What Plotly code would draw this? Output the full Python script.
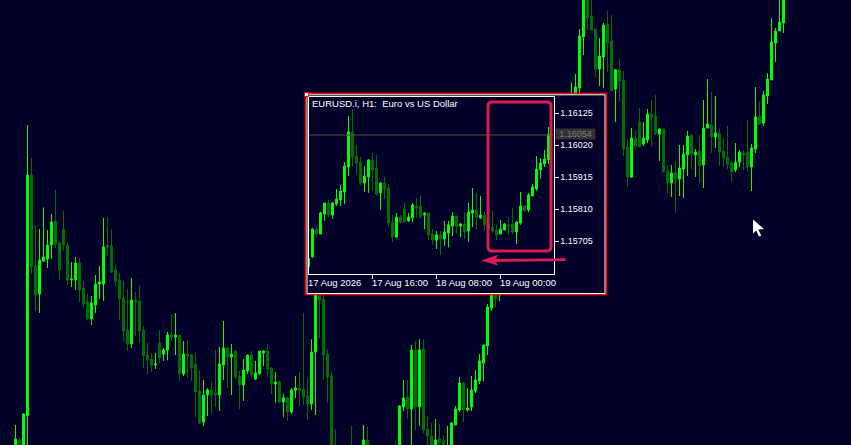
import plotly.graph_objects as go

W, H = 851, 445
BG = "#000028"
BULL = "#00FF00"
BEAR = "#007000"
CRIMSON = "#DC1A50"

# ---- background chart (points above the window's lower edge, 3 points per pixel)
main_index = list(range(0, 81)) + [84, 87, 88] + list(range(95, 122)) + list(range(139, 193))
main_open = [-40,15,-60,88,810,537,453,552,558,600,672,606,648,600,495,495,546,471,429,378,420,483,483,600,597,525,495,441,345,303,435,432,345,270,258,240,306,273,285,330,324,330,213,273,270,243,162,69,150,165,156,150,240,291,264,282,207,180,222,270,198,213,276,282,231,183,189,129,141,99,165,171,168,147,123,279,470,438,273,207,-70,
 -10,-20,15,
 -5,-30,114,144,108,285,114,288,48,27,-10,18,12,-30,-10,60,105,186,105,114,162,192,246,297,411,470,450,
 1000,1030,1071,1224,1360,1287,1248,1128,1164,1263,1212,1068,1125,1095,894,804,921,969,903,915,993,987,933,948,822,786,816,798,828,870,930,870,882,840,951,960,924,936,882,864,846,825,849,876,879,834,888,987,966,1047,1095,1206,1242,1266]
main_high = [60,22,95,960,861,659,648,713,645,693,765,612,702,609,549,564,561,492,453,447,510,537,681,684,648,543,516,492,468,501,459,477,357,306,276,276,345,291,339,393,396,330,312,315,273,279,222,195,171,189,285,294,372,294,303,285,222,258,270,282,252,282,285,303,234,219,195,153,144,171,207,219,396,201,317,490,480,460,288,219,48,
 57,60,57,
 9,120,195,195,300,312,317,317,87,66,78,63,30,57,69,117,204,189,171,207,225,273,300,423,490,480,480,
 1088,1113,1248,1380,1380,1340,1248,1221,1266,1302,1290,1128,1158,1122,915,951,945,1011,969,1008,1035,1050,951,948,840,840,849,900,900,942,930,888,930,1035,1098,1059,1047,948,921,957,852,906,885,885,975,903,1074,1032,1062,1116,1281,1251,1340,1380]
main_low = [-60,-50,-80,-120,513,402,396,549,531,558,591,495,582,480,474,465,429,411,375,360,396,438,432,567,516,474,375,309,282,291,327,306,231,213,219,228,246,252,255,312,270,192,207,201,192,84,63,57,87,93,114,102,195,171,150,198,108,132,213,204,195,213,237,204,153,126,126,84,72,93,141,117,120,75,105,90,321,195,126,-80,-100,
 -40,-40,-40,
 -40,-40,102,78,-20,45,57,36,-10,-20,-20,-10,-30,-40,-20,60,99,69,99,102,156,183,192,270,402,413,432,
 990,1010,1056,1170,1245,1245,1104,1077,1071,1119,1062,969,1032,867,774,801,888,894,897,906,897,930,852,819,756,744,696,747,741,807,828,804,786,771,951,876,891,837,834,828,789,819,834,825,819,762,876,960,957,1023,1095,1149,1242,1236]
main_close = [18,-30,93,810,535,450,555,564,600,669,602,525,600,495,498,546,465,423,378,426,483,489,594,594,519,492,438,342,303,435,429,342,267,255,240,243,261,285,330,324,330,213,273,267,231,159,66,150,165,150,150,243,291,264,273,204,180,225,270,210,216,282,282,228,183,189,129,141,99,165,171,162,144,123,279,470,435,270,204,-60,-90,
 -30,15,-20,
 -30,117,141,108,285,114,285,45,27,-10,15,6,-20,-10,66,108,186,105,111,165,195,252,300,414,480,440,470,
 1030,1074,1227,1360,1281,1245,1128,1167,1260,1206,1062,1126,1092,888,804,921,897,894,921,993,984,933,948,819,786,816,798,831,873,927,873,879,837,951,963,924,936,879,861,843,819,849,879,870,834,891,984,963,1050,1098,1209,1242,1269,1360]

# ---- inset chart (EURUSD H1, in points: 116125 = 1.16125)
inset_index = list(range(-1, 60))
inset_open = [115622,115654,115745,115729,115795,115831,115791,115828,115841,115867,115949,116064,115985,115965,115896,115916,115972,115946,115864,115896,115880,115768,115719,115785,115811,115772,115782,115821,115821,115791,115798,115729,115709,115726,115713,115732,115755,115788,115755,115762,115739,115798,115808,115782,115791,115762,115752,115742,115729,115742,115759,115762,115736,115765,115821,115808,115854,115877,115939,115959,115972]
inset_high = [115649,115749,115755,115801,115831,115841,115834,115877,115890,115965,116116,116139,116021,115982,115952,115975,115998,115988,115900,115916,115893,115791,115798,115791,115831,115798,115831,115847,115857,115801,115798,115745,115739,115739,115772,115772,115801,115788,115765,115801,115831,115880,115864,115854,115801,115775,115805,115759,115775,115765,115782,115814,115772,115867,115824,115864,115893,115985,115978,116005,116080]
inset_low = [115622,115650,115719,115729,115772,115785,115778,115821,115821,115828,115919,115949,115926,115890,115867,115864,115870,115854,115808,115844,115752,115703,115716,115765,115768,115768,115768,115782,115778,115745,115709,115693,115680,115660,115690,115685,115722,115732,115719,115713,115703,115752,115742,115778,115739,115730,115732,115709,115729,115742,115726,115729,115696,115759,115801,115801,115854,115870,115910,115949,115959]
inset_close = [115649,115745,115729,115798,115831,115791,115831,115844,115870,115952,116064,115982,115962,115896,115919,115972,115939,115860,115896,115877,115765,115719,115785,115768,115768,115785,115824,115814,115785,115798,115726,115709,115726,115713,115736,115759,115788,115755,115762,115736,115801,115808,115785,115791,115759,115748,115739,115726,115745,115762,115755,115736,115768,115821,115805,115857,115883,115942,115962,115975,116057]

y_tick_values = [116125, 116020, 115915, 115810, 115705]
y_tick_labels = ["1.16125", "1.16020", "1.15915", "1.15810", "1.15705"]
x_tick_values = [-1, 15, 31, 47]
x_tick_labels = ["17 Aug 2026", "17 Aug 16:00", "18 Aug 08:00", "19 Aug 00:00"]
current_price = 116054
current_label = "1.16054"
chart_title = "EURUSD.i, H1:  Euro vs US Dollar"

FONT = "Liberation Sans"


def fx(x):
    return x / W


def fy(y):
    return 1 - y / H


def candle(x, o, h, l, c, xa, ya):
    return go.Candlestick(
        x=x, open=o, high=h, low=l, close=c, xaxis=xa, yaxis=ya,
        increasing=dict(line=dict(color=BULL, width=1), fillcolor=BULL),
        decreasing=dict(line=dict(color=BEAR, width=1), fillcolor=BEAR),
        whiskerwidth=0, hoverinfo="skip", showlegend=False,
    )


fig = go.Figure()
fig.add_trace(candle(main_index, main_open, main_high, main_low, main_close, "x", "y"))
# opaque inset panel above the background chart
fig.add_trace(go.Scatter(x=[0, 1, 1, 0, 0], y=[0, 0, 1, 1, 0], xaxis="x2", yaxis="y2", mode="none",
                         fill="toself", fillcolor=BG, hoverinfo="skip", showlegend=False))
fig.add_trace(candle(inset_index, inset_open, inset_high, inset_low, inset_close, "x3", "y3"))


def hidden(**kw):
    return dict(visible=False, fixedrange=True, **kw)


white_line = dict(color="#FFFFFF", width=1)
red_line = dict(color="#FF0000", width=1.5)
shapes = [
    dict(type="rect", xref="paper", yref="paper", x0=fx(305.5), x1=fx(606.5), y0=fy(294.5), y1=fy(93.5), line=red_line),
    dict(type="rect", xref="paper", yref="paper", x0=fx(307), x1=fx(605), y0=fy(293.5), y1=fy(94.8), line=white_line),
    dict(type="rect", xref="paper", yref="paper", x0=fx(304.5), x1=fx(308.5), y0=fy(96.5), y1=fy(92.5),
         line=dict(color="#FF0000", width=1), fillcolor="#FFFFFF"),
    # current price line
    dict(type="line", xref="x3 domain", yref="y3", x0=0, x1=1, y0=current_price, y1=current_price,
         line=dict(color="#55553F", width=1)),
    # highlight box
    dict(type="path", xref="paper", yref="paper", line=dict(color=CRIMSON, width=3),
         path=(f"M{fx(492)},{fy(102)} L{fx(547)},{fy(102)} Q{fx(551)},{fy(102)} {fx(551)},{fy(106)} "
               f"L{fx(551)},{fy(247)} Q{fx(551)},{fy(251)} {fx(547)},{fy(251)} "
               f"L{fx(492)},{fy(251)} Q{fx(488)},{fy(251)} {fx(488)},{fy(247)} "
               f"L{fx(488)},{fy(106)} Q{fx(488)},{fy(102)} {fx(492)},{fy(102)} Z")),
    # arrow
    dict(type="path", xref="paper", yref="paper", line=dict(color=CRIMSON, width=0), fillcolor=CRIMSON,
         path=(f"M{fx(481)},{fy(260.5)} L{fx(498)},{fy(254.7)} L{fx(496)},{fy(259)} L{fx(565.5)},{fy(258.3)} "
               f"L{fx(565.5)},{fy(261)} L{fx(496)},{fy(262)} L{fx(498)},{fy(265.5)} Z")),
    # mouse pointer
    dict(type="path", xref="paper", yref="paper", line=dict(color="#FFFFFF", width=0), fillcolor="#FFFFFF",
         path=(f"M{fx(753)},{fy(219.5)} L{fx(753)},{fy(233.5)} L{fx(756.2)},{fy(230.5)} L{fx(759)},{fy(236.5)} "
               f"L{fx(761.2)},{fy(235.5)} L{fx(758.4)},{fy(229.5)} L{fx(764)},{fy(229)} Z")),
]

annotations = [
    dict(text=chart_title, xref="paper", yref="paper", x=fx(309.5), y=fy(103.5), xanchor="left", yanchor="middle",
         showarrow=False, font=dict(family=FONT, size=9.5, color="#FFFFFF")),
    dict(text=current_label, xref="paper", yref="paper", x=fx(575.5), y=fy(134.2), xanchor="center", yanchor="middle",
         showarrow=False, font=dict(family=FONT, size=9, color="#7A7A7A"), bgcolor="#333333",
         width=39, height=10, borderpad=0),
]
for v, t in zip(x_tick_values, x_tick_labels):
    annotations.append(dict(text=t, xref="paper", yref="paper", x=fx(312.5 + 4 * v - 3), y=fy(282.6),
                            xanchor="left", yanchor="middle",
                            showarrow=False, font=dict(family=FONT, size=9.5, color="#FFFFFF")))

fig.update_layout(
    width=W, height=H, margin=dict(l=0, r=0, t=0, b=0, pad=0),
    paper_bgcolor=BG, plot_bgcolor=BG, showlegend=False, dragmode=False,
    boxgap=0.5, boxgroupgap=0,
    xaxis=dict(range=[(0 - 15.5) / 4, (W - 15.5) / 4], domain=[0, 1], visible=False, fixedrange=True,
               rangeslider=dict(visible=False)),
    yaxis=dict(range=[0, 1335], domain=[0, 1], visible=False, fixedrange=True),
    xaxis2=dict(range=[0, 1], domain=[fx(305), fx(607)], anchor="y2", **hidden()),
    yaxis2=dict(range=[0, 1], domain=[fy(295), fy(93)], anchor="x2", **hidden()),
    xaxis3=dict(range=[(309 - 312.5) / 4, (553.5 - 312.5) / 4], domain=[fx(309), fx(553.5)], anchor="y3",
                rangeslider=dict(visible=False), showgrid=False, zeroline=False, fixedrange=True,
                showline=True, mirror=True, linecolor="#FFFFFF", linewidth=1,
                tickmode="array", tickvals=x_tick_values, ticktext=[""] * 4,
                ticks="outside", ticklen=4, tickwidth=1, tickcolor="#FFFFFF"),
    yaxis3=dict(range=[116125 - (273.5 - 113.33) * 105 / 32, 116125 + (113.33 - 96.5) * 105 / 32],
                domain=[fy(273.5), fy(96.5)], anchor="x3", side="right", showgrid=False, zeroline=False,
                fixedrange=True, showline=True, mirror=True, linecolor="#FFFFFF", linewidth=1,
                tickmode="array", tickvals=y_tick_values, ticktext=y_tick_labels,
                ticks="outside", ticklen=4, tickwidth=1, tickcolor="#FFFFFF",
                tickfont=dict(family=FONT, size=9, color="#FFFFFF")),
    shapes=shapes, annotations=annotations,
)

assert len(main_index) == len(main_open) == len(main_high) == len(main_low) == len(main_close), (
    len(main_index), len(main_open), len(main_high), len(main_low), len(main_close))
assert len(inset_index) == len(inset_open) == len(inset_high) == len(inset_low) == len(inset_close), (
    len(inset_index), len(inset_open), len(inset_high), len(inset_low), len(inset_close))

fig.write_html("out.html", config=dict(displayModeBar=False),
               post_script="document.body.style.margin='0';document.documentElement.style.background='#000028';")
